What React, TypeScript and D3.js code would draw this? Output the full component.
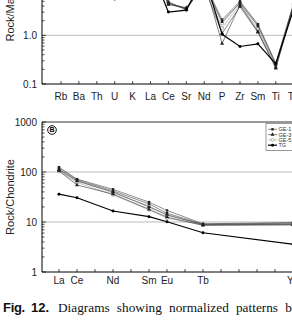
import React from 'react';
import * as d3 from 'd3';

// spider diagram (panel A) elements
const spiderElems = ['Rb', 'Ba', 'Th', 'U', 'K', 'La', 'Ce', 'Sr', 'Nd', 'P', 'Zr', 'Sm', 'Ti', 'Tb', 'Y'];
// REE diagram (panel B) positions and measured elements
const reeElems = ['La', 'Ce', 'Pr', 'Nd', 'Pm', 'Sm', 'Eu', 'Gd', 'Tb', 'Dy', 'Ho', 'Er', 'Tm', 'Yb', 'Lu'];
const reeMeasured = ['La', 'Ce', 'Nd', 'Sm', 'Eu', 'Tb', 'Yb'];

const sampleNames = ['GE-1', 'GE-2', 'GE-3', 'GE-4', 'GE-5', 'GE-6', 'TG'];
const sampleGroup = ['GE-1', 'GE-1', 'GE-3', 'GE-3', 'GE-5', 'GE-5', 'TG'];
const legendItems = ['GE-1', 'GE-3', 'GE-5', 'TG'];

// Rock / mantle values, same order as spiderElems
const spiderGE1 = [150, 120, 60, 30, 25, 40, 4.6, 3.6, 12, 2.1, 5.0, 1.7, 0.27, 4.6, 6];
const spiderGE2 = [140, 110, 55, 28, 22, 38, 4.4, 3.5, 11, 1.9, 4.6, 1.55, 0.25, 4.4, 5.8];
const spiderGE3 = [160, 130, 65, 32, 28, 35, 4.8, 3.4, 13, 0.68, 4.2, 1.2, 0.22, 4.2, 5.5];
const spiderGE4 = [130, 100, 50, 26, 20, 30, 4.3, 3.7, 10, 1.1, 3.9, 1.15, 0.21, 4.0, 5.2];
const spiderGE5 = [145, 115, 58, 29, 24, 32, 4.9, 3.3, 11.5, 1.4, 4.4, 1.35, 0.24, 4.3, 5.6];
const spiderGE6 = [155, 125, 62, 31, 26, 36, 4.5, 3.5, 12.5, 1.75, 4.8, 1.6, 0.26, 4.5, 6];
const spiderTG = [80, 60, 30, 5.6, 15, 25, 3.0, 3.3, 17, 1.05, 0.59, 0.67, 0.26, 3.5, 4];

// Rock / chondrite values, same order as reeMeasured
const reeGE1 = [125, 72, 45, 25, 17, 9.2, 9.8];
const reeGE2 = [118, 70, 42, 23, 15, 9.0, 9.5];
const reeGE3 = [110, 66, 40, 20, 14, 8.8, 9.0];
const reeGE4 = [105, 55, 36, 18, 12.5, 8.6, 8.8];
const reeGE5 = [102, 62, 35, 17.5, 12, 8.7, 8.7];
const reeGE6 = [112, 68, 38, 21, 13.5, 9.1, 9.3];
const reeTG = [36, 30.6, 16.6, 12.8, 10.1, 6.1, 3.6];

const spiderData = [spiderGE1, spiderGE2, spiderGE3, spiderGE4, spiderGE5, spiderGE6, spiderTG];
const reeData = [reeGE1, reeGE2, reeGE3, reeGE4, reeGE5, reeGE6, reeTG];

const sans = '"Liberation Sans", Arial, sans-serif';
const serif = '"Liberation Serif", "Times New Roman", serif';

const styles: Record<string, { stroke: string; width: number; symbol: d3.SymbolType; size: number; fill: string; mstroke: string }> = {
  'GE-1': { stroke: '#444', width: 0.6, symbol: d3.symbolSquare, size: 6, fill: '#222', mstroke: 'none' },
  'GE-3': { stroke: '#333', width: 0.6, symbol: d3.symbolTriangle, size: 7, fill: '#222', mstroke: 'none' },
  'GE-5': { stroke: '#9a9a9a', width: 0.6, symbol: d3.symbolCircle, size: 7, fill: '#fff', mstroke: '#888' },
  'TG': { stroke: '#000', width: 1.2, symbol: d3.symbolCircle, size: 7, fill: '#000', mstroke: 'none' },
};

const drawOrder = [4, 5, 0, 1, 2, 3, 6];

const AxisLeft: React.FC<{ y: d3.ScaleLogarithmic<number, number>; x: number; labels: Record<number, string> }> = ({ y, x, labels }) => {
  const [r0, r1] = y.range();
  return (
    <g>
      <line x1={x} x2={x} y1={r0} y2={r1} stroke="#000" strokeWidth={1} />
      {y.ticks().map((t, i) => {
        const major = Math.abs(Math.log10(t) - Math.round(Math.log10(t))) < 1e-6;
        return <line key={i} x1={x} x2={x + (major ? 4 : 2.5)} y1={y(t)} y2={y(t)} stroke="#000" strokeWidth={0.7} />;
      })}
      {Object.keys(labels).map((k) => (
        <text key={k} x={x - 5} y={y(+k)} dy="0.35em" textAnchor="end" fontSize={10} fontFamily={sans} fill="#222">
          {labels[+k]}
        </text>
      ))}
    </g>
  );
};

export default function App() {
  const left = 42;
  const right = 320;

  // panel A
  const yA = d3.scaleLog().domain([0.1, 100]).range([84, -62]);
  const xA = d3.scalePoint<string>().domain(spiderElems).range([61, 61 + 17.9 * (spiderElems.length - 1)]);
  // panel B
  const yB = d3.scaleLog().domain([1, 1000]).range([272, 122]);
  const xB = d3.scalePoint<string>().domain(reeElems).range([59, 59 + 18 * (reeElems.length - 1)]);

  const lineA = d3.line<number>().x((_, i) => xA(spiderElems[i])!).y((d) => yA(d));
  const lineB = d3.line<number>().x((_, i) => xB(reeMeasured[i])!).y((d) => yB(d));

  const marker = (g: string) => d3.symbol().type(styles[g].symbol).size(styles[g].size)()!;

  const series = (data: number[][], line: d3.Line<number>, xs: (i: number) => number, ys: (v: number) => number) =>
    drawOrder.map((s) => {
      const g = sampleGroup[s];
      const st = styles[g];
      return (
        <g key={sampleNames[s]}>
          <path d={line(data[s])!} fill="none" stroke={st.stroke} strokeWidth={st.width} />
          {data[s].map((v, i) => (
            <path key={i} d={marker(g)} transform={`translate(${xs(i)},${ys(v)})`} fill={st.fill} stroke={st.mstroke} strokeWidth={0.6} />
          ))}
        </g>
      );
    });

  return (
    <svg width={292} height={320} style={{ position: 'fixed', left: 0, top: 0, background: '#fff' }}>
      <rect width={292} height={320} fill="#fff" />

      {/* panel A */}
      <line x1={left} x2={right} y1={yA(1)} y2={yA(1)} stroke="#aaa" strokeWidth={0.8} />
      <line x1={left} x2={right} y1={yA(0.1)} y2={yA(0.1)} stroke="#000" strokeWidth={1} />
      {spiderElems.map((e) => (
        <g key={e}>
          <line x1={xA(e)} x2={xA(e)} y1={yA(0.1)} y2={yA(0.1) - 3} stroke="#000" strokeWidth={0.7} />
          <text x={xA(e)} y={100} textAnchor="middle" fontSize={10} fontFamily={sans} fill="#222">{e}</text>
        </g>
      ))}
      <AxisLeft y={yA} x={left} labels={{ 0.1: '0.1', 1: '1.0', 10: '10', 100: '100' }} />
      {series(spiderData, lineA, (i) => xA(spiderElems[i])!, (v) => yA(v))}
      <text transform={`translate(14,${(yA.range()[0] + yA.range()[1]) / 2}) rotate(-90)`} textAnchor="middle" fontSize={11} fontFamily={sans} fill="#222">
        Rock/Mantle
      </text>

      {/* panel B */}
      <line x1={left} x2={right} y1={yB(100)} y2={yB(100)} stroke="#aaa" strokeWidth={0.8} />
      <line x1={left} x2={right} y1={yB(10)} y2={yB(10)} stroke="#aaa" strokeWidth={0.8} />
      <line x1={left} x2={right} y1={yB(1000)} y2={yB(1000)} stroke="#333" strokeWidth={1} />
      <line x1={left} x2={right} y1={yB(1)} y2={yB(1)} stroke="#000" strokeWidth={1} />
      {reeElems.map((e) => (
        <line key={e} x1={xB(e)} x2={xB(e)} y1={yB(1)} y2={yB(1) - 3} stroke="#000" strokeWidth={0.7} />
      ))}
      {reeMeasured.map((e) => (
        <text key={e} x={xB(e)} y={284} textAnchor="middle" fontSize={10} fontFamily={sans} fill="#222">{e}</text>
      ))}
      <AxisLeft y={yB} x={left} labels={{ 1: '1', 10: '10', 100: '100', 1000: '1000' }} />
      {series(reeData, lineB, (i) => xB(reeMeasured[i])!, (v) => yB(v))}
      <text transform={`translate(14,${(yB.range()[0] + yB.range()[1]) / 2}) rotate(-90)`} textAnchor="middle" fontSize={11} fontFamily={sans} fill="#222">
        Rock/Chondrite
      </text>
      <circle cx={52} cy={130} r={4.3} fill="#fff" stroke="#111" strokeWidth={1} />
      <text x={52} y={130} dy="0.35em" textAnchor="middle" fontSize={7} fontWeight="bold" fontFamily={sans}>B</text>

      {/* legend */}
      <rect x={266} y={123.5} width={40} height={27} fill="#fff" stroke="#555" strokeWidth={0.6} />
      {legendItems.map((g, i) => {
        const st = styles[g];
        const ly = 129.3 + i * 5.3;
        return (
          <g key={g}>
            <line x1={268} x2={277} y1={ly} y2={ly} stroke={st.stroke} strokeWidth={st.width} />
            <path d={marker(g)} transform={`translate(272.5,${ly})`} fill={st.fill} stroke={st.mstroke} strokeWidth={0.6} />
            <text x={278.5} y={ly} dy="0.35em" fontSize={5.5} fontFamily={sans} fill="#333">{g}</text>
          </g>
        );
      })}

      {/* caption */}
      <text x={3} y={311.5} fontSize={13} fill="#111">
        <tspan fontFamily={sans} fontWeight="bold" letterSpacing={-0.3}>Fig.</tspan>
        <tspan fontFamily={sans} fontWeight="bold" x={31}>12.</tspan>
        <tspan fontFamily={serif} fontSize={13.3} x={58} wordSpacing={3.8}>Diagrams showing normalized patterns between</tspan>
      </text>
    </svg>
  );
}
